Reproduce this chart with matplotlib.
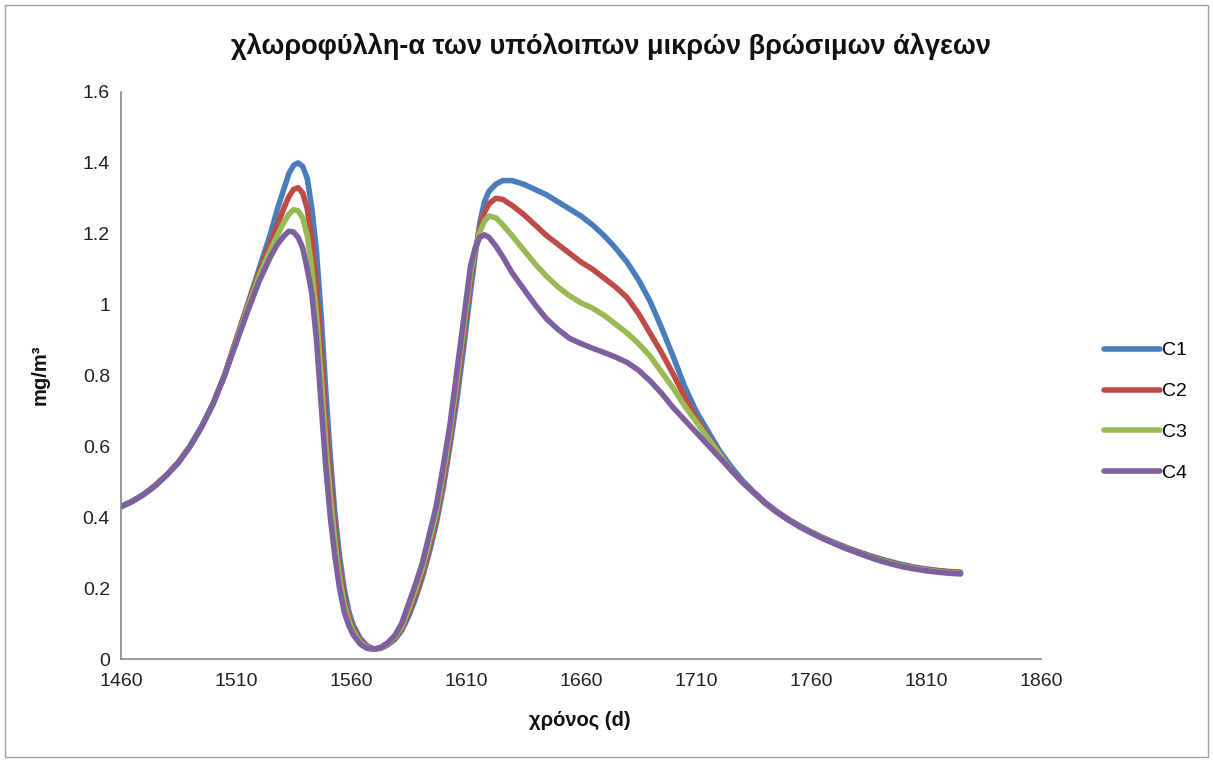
import matplotlib
matplotlib.use("Agg")
import matplotlib.pyplot as plt
from matplotlib.patches import Rectangle

plt.rcParams['font.family'] = ['Liberation Sans', 'DejaVu Sans']

# ---- data ----
days_early = [1460, 1465, 1470, 1475, 1480, 1485, 1490, 1495, 1500, 1505]
vals_early = [0.43, 0.445, 0.465, 0.49, 0.52, 0.555, 0.60, 0.655, 0.72, 0.80]

days_mid = [1510, 1515, 1520, 1525, 1528, 1531, 1533, 1535, 1537, 1539, 1541, 1543,
            1545, 1547, 1549, 1551, 1553, 1555, 1557, 1559, 1561,
            1564, 1567, 1570, 1573, 1576, 1579, 1582, 1585, 1588, 1591, 1594, 1597,
            1600, 1603, 1606, 1609, 1612,
            1614, 1616, 1618, 1620, 1623, 1626, 1630,
            1635, 1640, 1645, 1650, 1655, 1660, 1665, 1670, 1675, 1680, 1685, 1690,
            1695, 1700, 1705, 1710, 1715, 1720, 1725, 1730]

c1_mid = [0.90, 1.00, 1.10, 1.20, 1.27, 1.33, 1.37, 1.393, 1.40, 1.39, 1.355, 1.27,
          1.15, 0.97, 0.76, 0.57, 0.41, 0.29, 0.20, 0.135, 0.095,
          0.058, 0.037, 0.028, 0.03, 0.04, 0.055, 0.08, 0.12, 0.17, 0.23, 0.30, 0.38,
          0.48, 0.60, 0.73, 0.88, 1.04,
          1.14, 1.23, 1.29, 1.32, 1.34, 1.35, 1.35,
          1.34, 1.325, 1.31, 1.29, 1.27, 1.25, 1.225, 1.195, 1.16, 1.12, 1.07, 1.01,
          0.935, 0.855, 0.77, 0.70, 0.645, 0.59, 0.545, 0.505]

c2_mid = [0.90, 0.995, 1.09, 1.175, 1.225, 1.275, 1.305, 1.325, 1.33, 1.315, 1.27, 1.18,
          1.05, 0.87, 0.68, 0.51, 0.37, 0.26, 0.175, 0.12, 0.085,
          0.052, 0.034, 0.028, 0.031, 0.042, 0.058, 0.085, 0.13, 0.18, 0.24, 0.315, 0.395,
          0.50, 0.62, 0.76, 0.91, 1.07,
          1.15, 1.215, 1.26, 1.285, 1.30, 1.297, 1.28,
          1.255, 1.225, 1.195, 1.17, 1.145, 1.12, 1.10, 1.075, 1.05, 1.02, 0.975, 0.92,
          0.865, 0.805, 0.74, 0.68, 0.63, 0.58, 0.535, 0.50]

c3_mid = [0.895, 0.99, 1.08, 1.155, 1.195, 1.235, 1.255, 1.268, 1.265, 1.245, 1.195, 1.10,
          0.97, 0.80, 0.61, 0.46, 0.33, 0.23, 0.155, 0.108, 0.077,
          0.047, 0.032, 0.028, 0.032, 0.043, 0.062, 0.09, 0.14, 0.195, 0.255, 0.33, 0.41,
          0.52, 0.64, 0.785, 0.935, 1.09,
          1.155, 1.205, 1.235, 1.25, 1.245, 1.225, 1.195,
          1.155, 1.115, 1.08, 1.05, 1.025, 1.005, 0.99, 0.97, 0.945, 0.92, 0.89, 0.855,
          0.81, 0.765, 0.715, 0.67, 0.625, 0.58, 0.535, 0.50]

c4_mid = [0.89, 0.98, 1.065, 1.135, 1.17, 1.195, 1.207, 1.205, 1.19, 1.16, 1.10, 1.03,
          0.90, 0.72, 0.545, 0.40, 0.29, 0.20, 0.135, 0.095, 0.068,
          0.042, 0.03, 0.028, 0.033, 0.046, 0.066, 0.10, 0.155, 0.21, 0.27, 0.35, 0.43,
          0.54, 0.66, 0.81, 0.96, 1.11,
          1.16, 1.19, 1.197, 1.19, 1.165, 1.135, 1.09,
          1.045, 1.00, 0.96, 0.93, 0.905, 0.89, 0.877, 0.865, 0.852, 0.837, 0.815, 0.785,
          0.75, 0.71, 0.675, 0.64, 0.605, 0.57, 0.535, 0.50]

days_tail = [1735, 1740, 1745, 1750, 1755, 1760, 1765, 1770, 1775, 1780, 1785, 1790,
             1795, 1800, 1805, 1810, 1815, 1820, 1825]
c1_tail = [0.472, 0.442, 0.417, 0.395, 0.376, 0.359, 0.343, 0.329, 0.316, 0.304, 0.293, 0.283,
           0.274, 0.266, 0.259, 0.254, 0.25, 0.247, 0.245]
c2_tail = [0.471, 0.441, 0.416, 0.394, 0.375, 0.358, 0.342, 0.328, 0.315, 0.303, 0.291, 0.281,
           0.272, 0.264, 0.258, 0.253, 0.249, 0.246, 0.244]
c3_tail = [0.470, 0.440, 0.415, 0.393, 0.374, 0.357, 0.341, 0.327, 0.313, 0.301, 0.289, 0.279,
           0.27, 0.262, 0.256, 0.251, 0.247, 0.244, 0.242]
c4_tail = [0.470, 0.440, 0.415, 0.393, 0.373, 0.356, 0.340, 0.326, 0.312, 0.300, 0.288, 0.277,
           0.268, 0.260, 0.254, 0.249, 0.245, 0.242, 0.240]

series_names = ["C1", "C2", "C3", "C4"]
series_colors = ["#4A7EBB", "#BE4B48", "#98B954", "#7D60A0"]

days = days_early + days_mid + days_tail
series = [vals_early + c1_mid + c1_tail,
          vals_early + c2_mid + c2_tail,
          vals_early + c3_mid + c3_tail,
          vals_early + c4_mid + c4_tail]

x_ticks = [1460, 1510, 1560, 1610, 1660, 1710, 1760, 1810, 1860]
y_ticks = [0, 0.2, 0.4, 0.6, 0.8, 1.0, 1.2, 1.4, 1.6]
y_tick_labels = ["0", "0.2", "0.4", "0.6", "0.8", "1", "1.2", "1.4", "1.6"]

title = "χλωροφύλλη-α των υπόλοιπων μικρών βρώσιμων άλγεων"
xlabel = "χρόνος (d)"
ylabel = "mg/m³"

# ---- figure ----
fig = plt.figure(figsize=(12.13, 7.60), dpi=100)
ax = fig.add_axes([121 / 1213, 1 - 659 / 760, (1041 - 121) / 1213, (659 - 92) / 760])

for name, col, vals in zip(series_names, series_colors, series):
    ax.plot(days, vals, color=col, lw=4.0, label=name, solid_capstyle='round',
            solid_joinstyle='round')

ax.set_xlim(1460, 1860)
ax.set_ylim(0, 1.6)
ax.set_xticks(x_ticks)
ax.set_xticklabels([str(t) for t in x_ticks])
ax.set_yticks(y_ticks)
ax.set_yticklabels(y_tick_labels)
ax.tick_params(axis='both', length=0, labelsize=14, colors='#222222')
ax.tick_params(axis='x', pad=10)
ax.tick_params(axis='y', pad=8)
for s in ['top', 'right']:
    ax.spines[s].set_visible(False)
for s in ['left', 'bottom']:
    ax.spines[s].set_color('#868686')
    ax.spines[s].set_linewidth(1.2)

fig.text(611 / 1213, 1 - 46 / 760, title, ha='center', va='center', fontsize=19.5,
         fontweight='bold', color='#111111')
fig.text(0.478, 1 - 720 / 760, xlabel, ha='center', va='center', fontsize=14.5,
         fontweight='bold', color='#111111')
fig.text(40 / 1213, 1 - 375 / 760, ylabel, ha='center', va='center', fontsize=14.5,
         fontweight='bold', rotation=90, color='#111111')

leg = ax.legend(loc='center left', bbox_to_anchor=(1086 / 1213, 1 - 412 / 760),
                bbox_transform=fig.transFigure, frameon=False, fontsize=14,
                handlelength=2.9, handletextpad=0.1, labelspacing=1.2)

fig.patches.append(Rectangle((0.004, 0.004), 0.992, 0.99, transform=fig.transFigure,
                             fill=False, edgecolor='#A0A0A0', lw=1.0))

fig.savefig("out.png", dpi=100, facecolor='white')
